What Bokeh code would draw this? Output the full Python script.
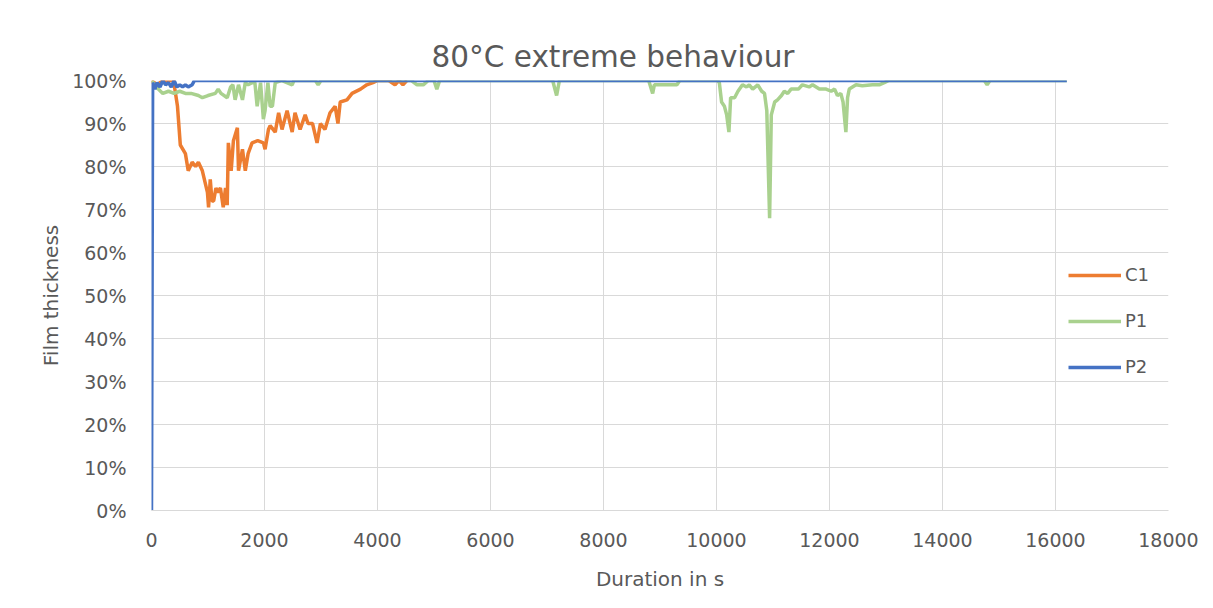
from bokeh.plotting import figure
from bokeh.models import Range1d, PrintfTickFormatter, Legend, LegendItem, FixedTicker
from bokeh.embed import file_html
from bokeh.resources import INLINE

# ---------------- data ----------------
x_ticks = [0, 2000, 4000, 6000, 8000, 10000, 12000, 14000, 16000, 18000]
y_ticks = [0, 10, 20, 30, 40, 50, 60, 70, 80, 90, 100]

c1_t = [0, 100, 200, 300, 390, 460, 510, 600, 650, 720,
        780, 830, 900, 990, 1010, 1040, 1070, 1100, 1140, 1170,
        1220, 1270, 1310, 1340, 1360, 1410, 1450, 1520, 1540, 1610,
        1660, 1710, 1780, 1880, 1980, 2010, 2070, 2100, 2190, 2250,
        2310, 2400, 2490, 2540, 2630, 2720, 2770, 2850, 2930, 2990,
        3070, 3160, 3250, 3300, 3340, 3460, 3550, 3700, 3810, 3920,
        4000, 4200, 4310, 4380, 4450, 4520]
c1_v = [100, 99, 100, 100, 100, 94, 85, 83, 79, 81,
        80, 81, 79, 74, 70.5, 77, 72, 72, 75, 74,
        75, 70.5, 75, 71, 85.5, 79, 86, 89, 79, 84,
        79, 83, 85.5, 86, 85.5, 84, 88.6, 89.5, 88, 92.5,
        88.6, 93, 88, 92.5, 88.6, 92, 90, 90, 85.5, 90,
        88.6, 92.5, 94, 90, 95, 95.5, 97, 98, 99, 99.5,
        100, 100, 99, 100, 99, 100]

p1_t = [0, 60, 120, 200, 300, 400, 500, 600, 700, 830,
        900, 1000, 1130, 1180, 1230, 1340, 1400, 1440, 1480, 1540,
        1610, 1660, 1710, 1780, 1830, 1870, 1930, 1980, 2010, 2060,
        2100, 2140, 2190, 2300, 2490, 2520, 2900, 2950, 3000, 3500,
        4600, 4700, 4810, 4900, 5000, 5050, 5100, 7100, 7170, 7220,
        8800, 8870, 8900, 9300, 9350, 10020, 10050, 10090, 10140, 10180,
        10220, 10250, 10320, 10380, 10460, 10530, 10580, 10640, 10730, 10800,
        10850, 10890, 10940, 10970, 11030, 11080, 11150, 11200, 11260, 11320,
        11450, 11520, 11640, 11700, 11820, 11940, 12030, 12090, 12140, 12200,
        12240, 12290, 12320, 12350, 12470, 12580, 12760, 12880, 12970, 13050,
        14740, 14790, 14840, 16200]
p1_v = [100, 99, 98, 97, 97.5, 97, 97.5, 97, 97, 96.5,
        96, 96.5, 97, 98, 97, 96, 98.5, 99, 95.5, 99,
        95.5, 99.5, 99, 99.5, 99.5, 94, 99.5, 91, 93, 99.5,
        94, 94, 99.5, 100, 99, 100, 100, 99, 100, 100,
        100, 99, 99, 100, 100, 98, 100, 100, 96.5, 100,
        100, 97, 99, 99, 100, 100, 99.5, 95, 94, 92,
        88, 96, 96, 97.5, 99, 98.5, 99, 98, 99, 97.5,
        97, 93, 68, 92, 95, 95.5, 96.5, 97.5, 97, 98,
        98, 99, 98.5, 99, 98, 98, 97.5, 98, 96.5, 97,
        95, 88, 96, 98, 99, 98.8, 99, 99, 99.5, 100,
        100, 99, 100, 100]

p2_t = [0, 20, 60, 100, 150, 200, 250, 300, 350, 400, 450, 500, 550, 600, 650, 720, 760, 16200]
p2_v = [0, 99.5, 98, 99.5, 98.5, 100, 99, 99.5, 98.5, 100, 98.5, 99, 98.5, 99, 98.5, 99, 100, 100]

series_names = ["C1", "P1", "P2"]
title_text = "80°C extreme behaviour"
x_label = "Duration in s"
y_label = "Film thickness"

# ---------------- styling ----------------
FONT = "DejaVu Sans"
TXT = "#595959"
GRID = "#D9D9D9"
colors = ["#ED7D31", "#A9D18E", "#4472C4"]

p = figure(width=1205, height=600, output_backend="svg", toolbar_location=None,
           x_range=Range1d(0, 18000), y_range=Range1d(0, 100),
           min_border_left=151, min_border_right=37, min_border_top=80, min_border_bottom=90)
p.outline_line_color = None
p.background_fill_color = "white"
p.border_fill_color = "white"

p.title.text = title_text
p.title.align = "left"
p.title.offset = 280
p.title.text_font = FONT
p.title.text_font_size = "29.5px"
p.title.text_font_style = "normal"
p.title.text_color = TXT
p.title.standoff = 14

p.xaxis.ticker = FixedTicker(ticks=x_ticks)
p.yaxis.ticker = FixedTicker(ticks=y_ticks)
p.xgrid.ticker = FixedTicker(ticks=x_ticks)
p.ygrid.ticker = FixedTicker(ticks=y_ticks)
p.yaxis.formatter = PrintfTickFormatter(format="%d%%")

for g in (p.xgrid, p.ygrid):
    g.grid_line_color = GRID
    g.grid_line_width = 1

for ax in (p.xaxis, p.yaxis):
    ax.major_tick_line_color = None
    ax.minor_tick_line_color = None
    ax.major_label_text_font = FONT
    ax.major_label_text_font_size = "19px"
    ax.major_label_text_color = TXT
    ax.axis_label_text_font = FONT
    ax.axis_label_text_font_size = "20px"
    ax.axis_label_text_font_style = "normal"
    ax.axis_label_text_color = TXT

p.xaxis.axis_line_color = GRID
p.yaxis.axis_line_color = None
p.xaxis.major_label_standoff = 16
p.yaxis.major_label_standoff = 19
p.xaxis.axis_label_standoff = 17
p.yaxis.axis_label_standoff = 6
p.xaxis.axis_label = x_label
p.yaxis.axis_label = y_label

r1 = p.line(c1_t, c1_v, line_color=colors[0], line_width=3.5)
r2 = p.line(p1_t, p1_v, line_color=colors[1], line_width=3.5)
r3 = p.line(p2_t, p2_v, line_color=colors[2], line_width=3.5)

legend = Legend(items=[LegendItem(label=series_names[0], renderers=[r1]),
                       LegendItem(label=series_names[1], renderers=[r2]),
                       LegendItem(label=series_names[2], renderers=[r3])],
                location=(917, 133))
legend.glyph_width = 53
legend.glyph_height = 20
legend.label_height = 20
legend.spacing = 25
legend.padding = 0
legend.margin = 0
legend.label_standoff = 4
legend.border_line_color = None
legend.background_fill_alpha = 0
legend.label_text_font = FONT
legend.label_text_font_size = "18px"
legend.label_text_color = TXT
p.add_layout(legend)

open("out.html", "w").write(file_html(p, INLINE))
